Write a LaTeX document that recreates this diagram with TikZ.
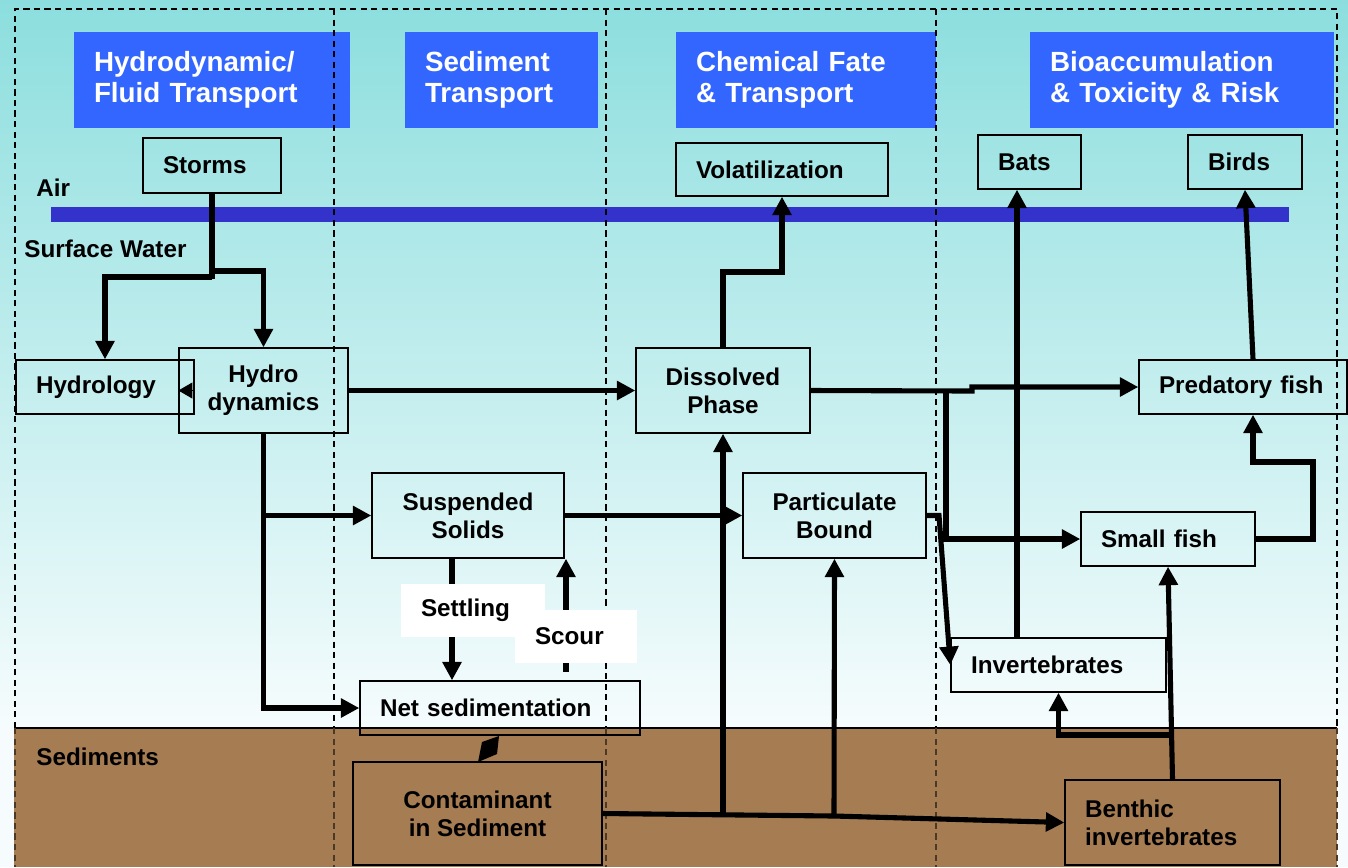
\documentclass[tikz,border=0pt]{standalone}
\usepackage{fontspec}
\setmainfont{Liberation Sans}
\usetikzlibrary{arrows.meta,calc}
\newlength\pxu \setlength\pxu{0.02cm}
\definecolor{bgtop}{HTML}{8CDEDE}
\definecolor{bgbot}{HTML}{F6FCFD}
\definecolor{sedbrown}{HTML}{A67C52}
\definecolor{hdrblue}{HTML}{3366FF}
\definecolor{barblue}{HTML}{3333CC}
\begin{document}
\begin{tikzpicture}[x=0.02cm,y=-0.02cm,
  font=\bfseries\fontsize{13.8}{16}\selectfont,
  box/.style={draw, line width=0.8pt, inner ysep=0pt},
  lbox/.style 2 args={box, align=left, text width=#1\pxu, inner xsep=20\pxu, minimum height=#2\pxu},
  cbox/.style 2 args={box, align=center, minimum width=#1\pxu, minimum height=#2\pxu, inner xsep=0pt},
  hdr/.style={fill=hdrblue, text=white, align=left, text width=#1\pxu, inner xsep=20\pxu, inner ysep=0pt, minimum height=96\pxu, font=\bfseries\fontsize{15.8}{18}\selectfont},
  lbl/.style 2 args={fill=white, align=left, text width=#1\pxu, inner xsep=20\pxu, inner ysep=0pt, minimum height=#2\pxu},
  arr/.style={line width=2.9pt, -{Triangle[length=10.5pt,width=10.5pt]}},
  thk/.style={line width=2.9pt},
  frame/.style={line width=0.7pt, dash pattern=on 3.5pt off 2.5pt},
  plain/.style={anchor=base west, inner sep=0pt},
]
\useasboundingbox (0,0) rectangle (1348,867);
% background
\shade[top color=bgtop, bottom color=bgbot] (0,0) rectangle (1348,728);
\fill[bgbot] (0,728) rectangle (1348,867);
% headers
\node[hdr=236] (h1) at (212,80) {Hydrodynamic/\\Fluid Transport};
\node[hdr=153] (h2) at (501.5,80) {Sediment\\Transport};
\node[hdr=220] (h3) at (806,80) {Chemical Fate\\\& Transport};
\node[hdr=264] (h4) at (1182,80) {Bioaccumulation\\\& Toxicity \& Risk};
% air / water interface
\fill[barblue] (51,207) rectangle (1289,222);
% sediments
\fill[sedbrown] (14,728) rectangle (1337,867);
\draw[line width=0.8pt] (14,728) -- (1337,728);
% dashed frames
\draw[frame] (15,728) -- (15,9) -- (1337,9) -- (1337,728);
\foreach \xx in {334,606,936} \draw[frame] (\xx,9) -- (\xx,728);
\foreach \xx in {15,334,606,936,1337} \draw[frame, sedbrown!45!black] (\xx,728) -- (\xx,867);
% plain labels
\node[plain] (air) at (36,196) {Air};
\node[plain] (sw) at (24,257) {Surface Water};
\node[plain] (sed) at (36,765) {Sediments};
% boxes
\node[lbox={98}{55}] (storms) at (212,165.5) {Storms};
\node[lbox={138}{54}] (hydrology) at (105,387) {Hydrology};
\node[cbox={169}{85}] (hydro) at (263.5,390.5) {Hydro\\dynamics};
\node[cbox={174}{85}] (dissolved) at (723,390.5) {Dissolved\\Phase};
\node[lbox={172}{53}] (volat) at (782,169.5) {Volatilization};
\node[lbox={63}{54}] (bats) at (1029.5,162) {Bats};
\node[lbox={74}{54}] (birds) at (1245,162) {Birds};
\node[lbox={168}{54}] (predatory) at (1243,387) {Predatory fish};
\node[cbox={192}{85}] (suspended) at (468,515.5) {Suspended\\Solids};
\node[cbox={183}{85}] (particulate) at (834.5,515.5) {Particulate\\Bound};
\node[lbox={134}{54}] (smallfish) at (1168,539) {Small fish};
\node[lbox={175}{54}] (invert) at (1058.5,665) {Invertebrates};
\node[lbox={240}{54}] (netsed) at (500,708) {Net sedimentation};
\node[cbox={249}{103}, fill=sedbrown] (contam) at (477.5,813.5) {Contaminant\\in Sediment};
\node[lbox={175}{85}, fill=sedbrown] (benthic) at (1172.5,822.5) {Benthic\\invertebrates};
% connectors
\coordinate (s1) at (212,277);
\coordinate (s2) at (212,271);
\draw[thk] (storms.south) -- (212,279);
\draw[arr] (s1) -| (hydrology.north);
\draw[arr] (s2) -| (hydro.north);
\draw[line width=0.8pt, -{Triangle[length=8pt,width=9pt]}] (hydrology.east |- hydro.west) -- (hydro.west);
\draw[arr] (hydro.east) -- (dissolved.west);
\draw[arr] (hydro.south) |- (netsed.west);
\draw[arr] (hydro.south |- suspended.west) -- (suspended.west);
\draw[arr] (suspended.south -| 452,0) -- (netsed.north -| 452,0);
\draw[arr] (566,672) -- (suspended.south -| 566,0);
\node[lbl={104}{53}] (settle) at (473,610.5) {Settling};
\node[lbl={82}{53}] (scour) at (576,636.5) {Scour};
\draw[arr] (suspended.east) -- (particulate.west);
\coordinate (v1) at (782,272);
\draw[arr] (dissolved.north) |- (v1) -- (volat.south);
\coordinate (j1) at (723,813);
\coordinate (j2) at (834,816);
\draw[arr] (contam.east) -- (j2) -- (benthic.west);
\draw[arr] (j1) -- (dissolved.south);
\draw[arr] (j2) -- (particulate.south);
\coordinate (d1) at (972,391);
\coordinate (d2) at (946,391);
\draw[arr] (dissolved.east) -- (d1) |- (predatory.west);
\draw[arr] (d2) |- (smallfish.west);
\coordinate (p1) at (939,515.5);
\draw[arr] (particulate.east) -- (p1) -- (invert.west);
\coordinate (f1) at (1313,462);
\draw[arr] (smallfish.east) -| (f1) -| ($(predatory.south)+(10,0)$);
\draw[arr] ($(predatory.north)+(10,0)$) -- (birds.south);
\draw[arr] (invert.north -| 1017,0) -- (bats.south -| 1017,0);
\draw[arr] (benthic.north) -- (smallfish.south);
\coordinate (b1) at (1170,735);
\draw[arr] (b1) -| (invert.south);
\fill (499,736) -- (482,742) -- (478,762) -- (497,754) -- cycle;
\end{tikzpicture}
\end{document}
